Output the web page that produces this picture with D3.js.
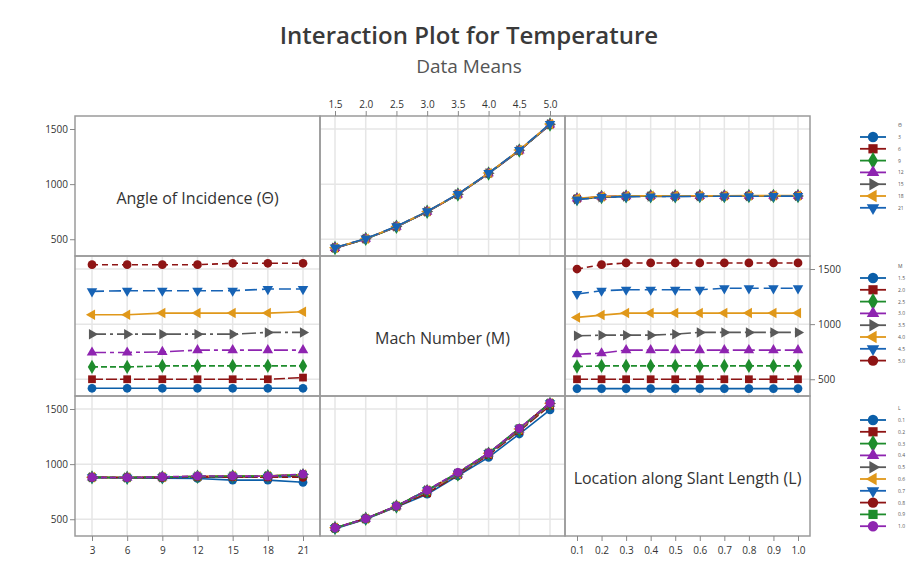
<!doctype html>
<html>
<head>
<meta charset="utf-8">
<script src="https://d3js.org/d3.v7.min.js"></script>
<style>
  body { margin: 0; background: #fff; }
  svg text { font-family: "Open Sans", "Noto Sans", sans-serif; fill: #333; }
</style>
</head>
<body>
<script>
// factor levels
var angleLevels = [3, 6, 9, 12, 15, 18, 21];
var machLevels = [1.5, 2.0, 2.5, 3.0, 3.5, 4.0, 4.5, 5.0];
var slantLevels = [0.1, 0.2, 0.3, 0.4, 0.5, 0.6, 0.7, 0.8, 0.9, 1.0];
var angleLabels = ["3", "6", "9", "12", "15", "18", "21"];
var machLabels = ["1.5", "2.0", "2.5", "3.0", "3.5", "4.0", "4.5", "5.0"];
var slantLabels = ["0.1", "0.2", "0.3", "0.4", "0.5", "0.6", "0.7", "0.8", "0.9", "1.0"];
var yTicks = [500, 1000, 1500];

// top-middle: mean temperature vs M, one row per angle
var byMachForAngle = [
  [418, 502, 612, 748, 905, 1095, 1303, 1538],
  [419, 503, 613, 749, 906, 1096, 1304, 1540],
  [420, 503, 613, 749, 906, 1097, 1305, 1541],
  [421, 504, 614, 750, 907, 1098, 1306, 1542],
  [422, 504, 615, 751, 908, 1099, 1307, 1543],
  [423, 505, 616, 752, 909, 1100, 1309, 1545],
  [424, 506, 617, 753, 910, 1101, 1310, 1546]
];
// top-right: mean temperature vs L, one row per angle
var bySlantForAngle = [
  [866, 884, 890, 890, 891, 891, 892, 892, 893, 893],
  [868, 885, 890, 891, 891, 892, 892, 893, 893, 894],
  [864, 883, 889, 890, 890, 891, 891, 892, 892, 893],
  [870, 886, 891, 892, 892, 893, 893, 894, 894, 895],
  [862, 882, 888, 889, 889, 890, 890, 891, 891, 892],
  [872, 888, 893, 894, 894, 895, 895, 896, 896, 897],
  [860, 882, 887, 888, 888, 889, 890, 890, 891, 891]
];
// middle-left: mean temperature vs angle, one row per M
var byAngleForMach = [
  [418, 418, 418, 418, 418, 418, 418],
  [500, 500, 500, 500, 500, 500, 515],
  [612, 612, 621, 621, 621, 621, 621],
  [743, 743, 748, 764, 764, 764, 764],
  [909, 909, 909, 909, 909, 925, 925],
  [1085, 1085, 1100, 1100, 1100, 1100, 1112],
  [1297, 1303, 1303, 1303, 1303, 1318, 1318],
  [1539, 1539, 1539, 1539, 1552, 1552, 1552]
];
// middle-right: mean temperature vs L, one row per M
var bySlantForMach = [
  [415, 415, 415, 415, 415, 415, 415, 415, 415, 415],
  [500, 500, 500, 500, 500, 500, 500, 500, 500, 500],
  [615, 621, 621, 621, 621, 621, 621, 621, 621, 621],
  [727, 736, 764, 764, 764, 764, 764, 764, 764, 764],
  [894, 900, 900, 900, 909, 925, 925, 925, 925, 925],
  [1061, 1082, 1100, 1100, 1100, 1100, 1100, 1100, 1100, 1100],
  [1273, 1303, 1312, 1312, 1312, 1312, 1325, 1325, 1325, 1325],
  [1500, 1539, 1555, 1555, 1555, 1555, 1555, 1555, 1555, 1555]
];
// bottom-left: mean temperature vs angle, one row per L
var byAngleForSlant = [
  [880, 875, 872, 870, 855, 855, 835],
  [880, 877, 878, 882, 882, 880, 895],
  [880, 877, 880, 885, 888, 890, 900],
  [880, 877, 882, 888, 890, 890, 905],
  [880, 878, 882, 888, 890, 892, 905],
  [882, 878, 883, 890, 892, 893, 905],
  [880, 876, 880, 886, 886, 884, 888],
  [880, 878, 880, 885, 885, 883, 880],
  [880, 878, 882, 888, 890, 892, 905],
  [880, 878, 885, 892, 892, 890, 910]
];
// bottom-middle: mean temperature vs M, one row per L
var byMachForSlant = [
  [415, 500, 612, 727, 894, 1061, 1273, 1492],
  [418, 502, 614, 736, 900, 1082, 1300, 1530],
  [420, 504, 616, 755, 905, 1095, 1308, 1545],
  [421, 505, 618, 760, 907, 1097, 1312, 1548],
  [421, 505, 618, 762, 909, 1098, 1315, 1550],
  [422, 505, 619, 763, 912, 1099, 1318, 1552],
  [421, 505, 619, 763, 915, 1100, 1320, 1553],
  [422, 506, 620, 764, 920, 1100, 1322, 1554],
  [422, 506, 620, 764, 922, 1100, 1324, 1555],
  [422, 506, 620, 764, 925, 1100, 1325, 1555]
];

// series styling (minitab-like)
var colors = ["#0b5ea8", "#8e1414", "#1e8c2c", "#8e24b0", "#595959", "#e0981a", "#1763b5", "#8e1414", "#1e8c2c", "#8e24b0"];
var dashes = [null, "11,3", "6,3", "14,4,4,4", "14,4,3,4", null, "12,5", "6,4", "10,3", "6,3"];
var shapes = ["circle", "square", "diamond", "up", "right", "left", "down", "circle", "square", "circle"];

var svg = d3.select("body").append("svg")
  .attr("width", 918).attr("height", 579);

svg.append("text").attr("x", 469).attr("y", 44)
  .attr("text-anchor", "middle").style("font-size", "24px").style("font-weight", 600)
  .style("fill", "#3a3a3a").text("Interaction Plot for Temperature");
svg.append("text").attr("x", 469).attr("y", 73)
  .attr("text-anchor", "middle").style("font-size", "19px")
  .style("fill", "#555").text("Data Means");

var cols = [75, 320, 565], rows = [116, 256, 396];
var cw = 245, ch = 140;

var xAngle = d3.scaleLinear().domain([3, 21]).range([cols[0] + 17, cols[0] + cw - 17]);
var xMach = d3.scaleLinear().domain([1.5, 5.0]).range([cols[1] + 15, cols[1] + cw - 15]);
var xSlant = d3.scaleLinear().domain([0.1, 1.0]).range([cols[2] + 12, cols[2] + cw - 12]);
var yScales = rows.map(function(r) {
  return d3.scaleLinear().domain([348, 1618]).range([r + ch, r]);
});

function symbolPath(shape, size) {
  var t = {circle: d3.symbolCircle, square: d3.symbolSquare, diamond: d3.symbolDiamond};
  if (t[shape]) return d3.symbol().type(t[shape]).size(size)();
  return d3.symbol().type(d3.symbolTriangle).size(size * 0.8)();
}
function symbolRot(shape) {
  return {up: 0, right: 90, down: 180, left: -90}[shape] || 0;
}

// one cell: gridlines, lines, markers
function drawCell(ci, ri, xScale, xLevels, table) {
  var y = yScales[ri];
  var g = svg.append("g");
  g.selectAll(".gx").data(xLevels).enter().append("line")
    .attr("x1", function(d) { return xScale(d); }).attr("x2", function(d) { return xScale(d); })
    .attr("y1", rows[ri]).attr("y2", rows[ri] + ch)
    .attr("stroke", "#e6e6e6").attr("stroke-width", 1.5);
  g.selectAll(".gy").data(yTicks).enter().append("line")
    .attr("x1", cols[ci]).attr("x2", cols[ci] + cw)
    .attr("y1", function(d) { return y(d); }).attr("y2", function(d) { return y(d); })
    .attr("stroke", "#e6e6e6").attr("stroke-width", 1.5);

  var line = d3.line().x(function(d, i) { return xScale(xLevels[i]); }).y(function(d) { return y(d); });
  table.forEach(function(vals, k) {
    g.append("path").attr("d", line(vals)).attr("fill", "none")
      .attr("stroke", colors[k]).attr("stroke-width", 1.6)
      .attr("stroke-dasharray", dashes[k]);
    g.selectAll(".m" + k).data(vals).enter().append("path")
      .attr("d", symbolPath(shapes[k], 60))
      .attr("transform", function(d, i) {
        return "translate(" + xScale(xLevels[i]) + "," + y(d) + ") rotate(" + symbolRot(shapes[k]) + ")";
      })
      .attr("fill", colors[k]);
  });
}

drawCell(1, 0, xMach, machLevels, byMachForAngle);
drawCell(2, 0, xSlant, slantLevels, bySlantForAngle);
drawCell(0, 1, xAngle, angleLevels, byAngleForMach);
drawCell(2, 1, xSlant, slantLevels, bySlantForMach);
drawCell(0, 2, xAngle, angleLevels, byAngleForSlant);
drawCell(1, 2, xMach, machLevels, byMachForSlant);

// diagonal labels
var diag = ["Angle of Incidence (\u0398)", "Mach Number (M)", "Location along Slant Length (L)"];
diag.forEach(function(t, i) {
  svg.append("text").attr("x", cols[i] + cw / 2).attr("y", rows[i] + 88)
    .attr("text-anchor", "middle").style("font-size", "16px").style("fill", "#333").text(t);
});

// panel borders
for (var r = 0; r < 3; r++) for (var c = 0; c < 3; c++) {
  svg.append("rect").attr("x", cols[c]).attr("y", rows[r]).attr("width", cw).attr("height", ch)
    .attr("fill", "none").attr("stroke", "#9a9a9a").attr("stroke-width", 1.5);
}

// axes
function styleAxis(g) {
  g.select(".domain").remove();
  g.selectAll(".tick line").attr("stroke", "#888");
  g.selectAll(".tick text").style("font-size", "10px").style("fill", "#333");
}
svg.append("g").attr("transform", "translate(0," + rows[0] + ")")
  .call(d3.axisTop(xMach).tickValues(machLevels).tickFormat(function(d, i) { return machLabels[i]; }).tickSize(5))
  .call(styleAxis);
svg.append("g").attr("transform", "translate(0," + (rows[2] + ch) + ")")
  .call(d3.axisBottom(xAngle).tickValues(angleLevels).tickFormat(function(d, i) { return angleLabels[i]; }).tickSize(5).tickPadding(6))
  .call(styleAxis);
svg.append("g").attr("transform", "translate(0," + (rows[2] + ch) + ")")
  .call(d3.axisBottom(xSlant).tickValues(slantLevels).tickFormat(function(d, i) { return slantLabels[i]; }).tickSize(5).tickPadding(6))
  .call(styleAxis);
[0, 2].forEach(function(ri) {
  svg.append("g").attr("transform", "translate(" + cols[0] + ",0)")
    .call(d3.axisLeft(yScales[ri]).tickValues(yTicks).tickFormat(d3.format("d")).tickSize(5).tickPadding(2))
    .call(styleAxis);
});
svg.append("g").attr("transform", "translate(" + (cols[2] + cw) + ",0)")
  .call(d3.axisRight(yScales[1]).tickValues(yTicks).tickFormat(d3.format("d")).tickSize(5).tickPadding(3))
  .call(styleAxis);

// legends
function drawLegend(title, labels, top) {
  var g = svg.append("g");
  g.append("text").attr("x", 898).attr("y", top + 2).style("font-size", "5px").style("fill", "#555").text(title);
  labels.forEach(function(lab, k) {
    var yy = top + 12 + k * 11.8;
    g.append("line").attr("x1", 860).attr("x2", 886).attr("y1", yy).attr("y2", yy)
      .attr("stroke", colors[k]).attr("stroke-width", 1.8);
    g.append("path").attr("d", symbolPath(shapes[k], 85))
      .attr("transform", "translate(873," + yy + ") rotate(" + symbolRot(shapes[k]) + ")")
      .attr("fill", colors[k]);
    g.append("text").attr("x", 898).attr("y", yy + 2).style("font-size", "5px").style("fill", "#555").text(lab);
  });
}
drawLegend("\u0398", angleLabels, 125);
drawLegend("M", machLabels, 266);
drawLegend("L", slantLabels, 408);
</script>
</body>
</html>
